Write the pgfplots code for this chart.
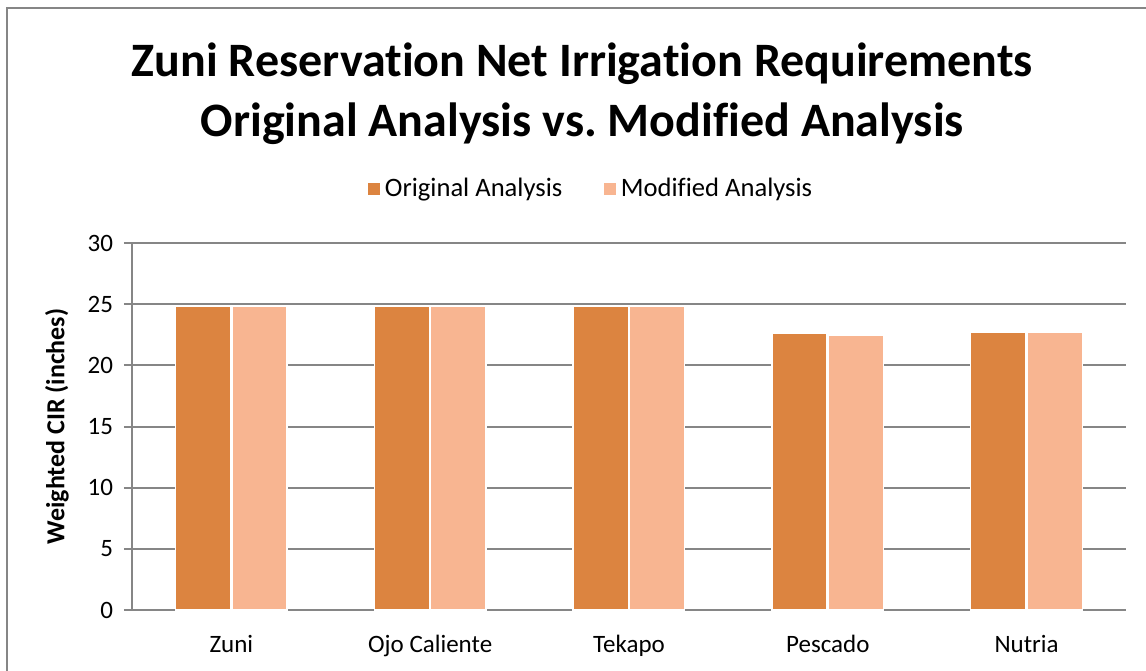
\documentclass[border=0pt]{standalone}
\usepackage{fontspec}
\setmainfont[Ligatures={NoCommon}]{Carlito}
\usepackage{pgfplots}
\pgfplotsset{compat=1.18}
\definecolor{orig}{RGB}{220,132,64}
\definecolor{modi}{RGB}{248,181,145}
\definecolor{gridc}{RGB}{134,134,134}

\begin{document}
\frenchspacing
\begin{tikzpicture}
% image frame: 1px = 0.5pt, axis origin at pixel (132,610)
\useasboundingbox (-66pt,-30pt) rectangle (507pt,305pt);
\draw[gridc, line width=1pt] (-62.5pt,-40pt) -- (-62.5pt,301pt) -- (520pt,301pt);
\begin{axis}[
    scale only axis,
    width=497pt, height=183.5pt,
    ymin=0, ymax=30, ytick={0,5,...,30},
    xmin=-0.5, xmax=4.5,
    xtick={0,1,2,3,4},
    xticklabels={Zuni,Ojo Caliente,Tekapo,Pescado,Nutria},
    major x tick style={draw=none},
    extra x ticks={-0.5,0.5,1.5,2.5,3.5,4.5},
    extra x tick labels={},
    extra x tick style={grid=none, major tick length=4pt, tick style={gridc, line width=1pt}},
    tick align=outside,
    major tick length=4pt,
    tick style={gridc, line width=1pt},
    axis x line*=bottom, axis y line*=left,
    axis line style={gridc, line width=1pt, -},
    ymajorgrids, grid style={gridc, line width=1pt},
    ybar=0.6pt, bar width=27.6pt,
    ticklabel style={font=\fontsize{12.5}{14}\selectfont},
    /pgf/number format/assume math mode=true,
    xticklabel style={yshift=-5pt},
    yticklabel style={xshift=-2pt},
    legend columns=2,
    legend style={draw=none, at={(rel axis cs:0.462,1.147)}, anchor=center,
        font=\fontsize{13.3}{15}\selectfont,
        /tikz/every even column/.append style={column sep=18pt}},
    legend image code/.code={\fill[#1] (0pt,-3.3pt) rectangle (6.6pt,3.3pt);},
    clip=false,
]
\addplot[fill=orig, draw=white, line width=0.7pt] coordinates {(0,24.86) (1,24.86) (2,24.86) (3,22.65) (4,22.72)};
\addplot[fill=modi, draw=white, line width=0.7pt] coordinates {(0,24.82) (1,24.82) (2,24.82) (3,22.42) (4,22.72)};
\legend{Original Analysis, Modified Analysis}
\node[font=\bfseries\fontsize{24}{28}\selectfont] at (rel axis cs:0.453,1.488) {Zuni Reservation Net Irrigation Requirements};
\node[font=\bfseries\fontsize{24}{28}\selectfont] at (rel axis cs:0.453,1.325) {Original Analysis vs. Modified Analysis};
\node[rotate=90, font=\bfseries\fontsize{13}{15}\selectfont] at (rel axis cs:-0.0755,0.5) {Weighted CIR (inches)};
\end{axis}
\end{tikzpicture}
\end{document}
